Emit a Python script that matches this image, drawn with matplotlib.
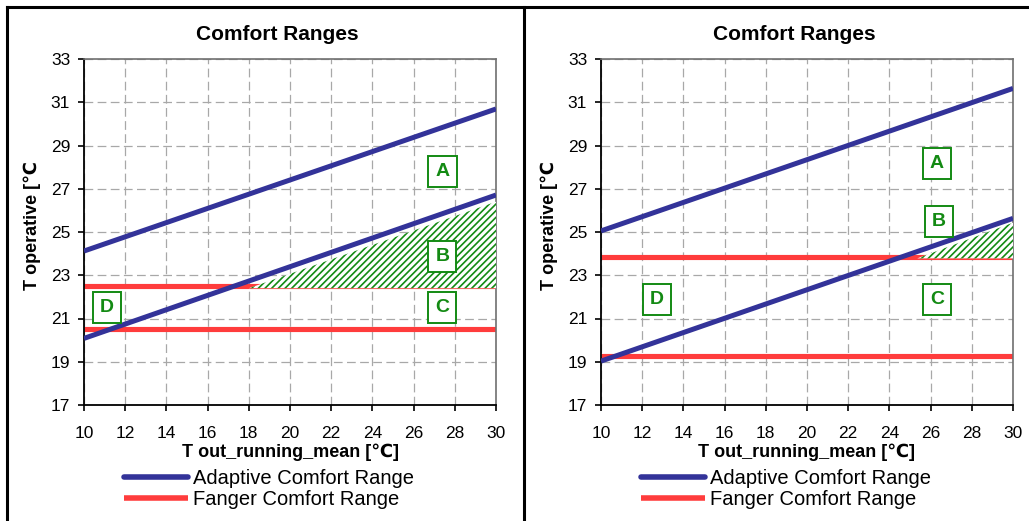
import matplotlib.pyplot as plt
from matplotlib.lines import Line2D

plt.rcParams['font.family'] = ['Liberation Sans', 'DejaVu Sans']
plt.rcParams['hatch.linewidth'] = 1.2
plt.rcParams['hatch.color'] = '#1a8a1a'

W, H = 1029, 521

# outdoor running mean temperature range (both charts)
t_out = [10, 30]

# left chart
adapt_upper_l = [24.12, 30.69]
adapt_lower_l = [20.08, 26.71]
fanger_l = [20.5, 22.5]
hatch_x_l = [18.0, 30, 30]
hatch_y_l = [22.4, 26.4, 22.4]
zone_x_l = [27.4, 27.4, 27.4, 11.1]
zone_y_l = [27.8, 23.85, 21.5, 21.5]

# right chart
adapt_upper_r = [25.05, 31.64]
adapt_lower_r = [19.03, 25.63]
fanger_r = [19.27, 23.83]
hatch_x_r = [25.35, 30, 30]
hatch_y_r = [23.78, 25.43, 23.78]
zone_x_r = [26.3, 26.4, 26.3, 12.7]
zone_y_r = [28.15, 25.5, 21.9, 21.9]

zone_names = ['A', 'B', 'C', 'D']
x_ticks = list(range(10, 31, 2))
y_ticks = list(range(17, 34, 2))

blue = '#333399'
red = '#ff3c3c'
green = '#138a13'


def px(x0, y0, x1, y1):
    # pixel box -> figure fraction rect
    return [x0 / W, 1 - y1 / H, (x1 - x0) / W, (y1 - y0) / H]


def draw_chart(ax, upper, lower, fanger, hx, hy, zx, zy, left_px):
    for y in fanger:
        ax.plot(t_out, [y, y], color=red, lw=3.7, solid_capstyle='butt', zorder=2)
    ax.fill(hx, hy, facecolor='white', edgecolor=green, hatch='/////',
            linewidth=0, zorder=3)
    ax.plot(t_out, upper, color=blue, lw=3.6, solid_capstyle='butt', zorder=4)
    ax.plot(t_out, lower, color=blue, lw=3.6, solid_capstyle='butt', zorder=4)

    for name, x, y in zip(zone_names, zx, zy):
        ax.text(x, y, name, color=green, fontsize=14, fontweight='bold',
                ha='center', va='center', zorder=6,
                bbox=dict(boxstyle='square,pad=0.36', facecolor='white',
                          edgecolor=green, linewidth=1.4))

    ax.set_xlim(10, 30)
    ax.set_ylim(17, 33)
    ax.set_xticks(x_ticks)
    ax.set_yticks(y_ticks)
    ax.tick_params(axis='x', direction='out', length=4, width=1.2,
                   labelsize=12.5, pad=11)
    ax.tick_params(axis='y', direction='out', length=4, width=1.2,
                   labelsize=12.5, pad=6)
    ax.grid(True, color='#a8a8a8', linestyle=(0, (7, 3.5)), linewidth=0.9)
    ax.set_axisbelow(True)
    for s in ['left', 'bottom']:
        ax.spines[s].set_color('black')
        ax.spines[s].set_linewidth(1.3)
    for s in ['top', 'right']:
        ax.spines[s].set_color('#707070')
        ax.spines[s].set_linewidth(1.2)

    handles = [Line2D([], [], color=blue, lw=4, solid_capstyle='round'),
               Line2D([], [], color=red, lw=4, solid_capstyle='butt')]
    ax.legend(handles, ['Adaptive Comfort Range', 'Fanger Comfort Range'],
              loc='upper left', frameon=False, fontsize=14.5,
              bbox_to_anchor=((left_px + 40) / W, 1 - 469 / H),
              bbox_transform=fig.transFigure, borderpad=0, borderaxespad=0,
              handlelength=3.2, handletextpad=0.22, labelspacing=0.12)


fig = plt.figure(figsize=(W / 100, H / 100), dpi=100)

ax1 = fig.add_axes(px(84, 59, 496, 405))
ax2 = fig.add_axes(px(601, 59, 1013, 405))

draw_chart(ax1, adapt_upper_l, adapt_lower_l, fanger_l,
           hatch_x_l, hatch_y_l, zone_x_l, zone_y_l, 84)
draw_chart(ax2, adapt_upper_r, adapt_lower_r, fanger_r,
           hatch_x_r, hatch_y_r, zone_x_r, zone_y_r, 601)

for title_x, xlab_x, ylab_x in [(277, 290, 32), (794, 807, 549)]:
    fig.text(title_x / W, 1 - 34 / H, 'Comfort Ranges', fontsize=15,
             fontweight='bold', ha='center', va='center')
    fig.text(xlab_x / W, 1 - 452 / H, 'T out_running_mean [℃]', fontsize=13,
             fontweight='bold', ha='center', va='center')
    fig.text(ylab_x / W, 1 - 226 / H, 'T operative [℃', fontsize=13,
             fontweight='bold', ha='center', va='center', rotation=90)

# panel frame
frame = dict(color='black', linewidth=2.2, transform=fig.transFigure)
fig.add_artist(Line2D([7 / W, 1], [1 - 7 / H, 1 - 7 / H], **frame))
fig.add_artist(Line2D([7 / W, 7 / W], [0, 1 - 7 / H], **frame))
fig.add_artist(Line2D([524 / W, 524 / W], [0, 1 - 7 / H], **frame))

fig.savefig('out.png', dpi=100)
